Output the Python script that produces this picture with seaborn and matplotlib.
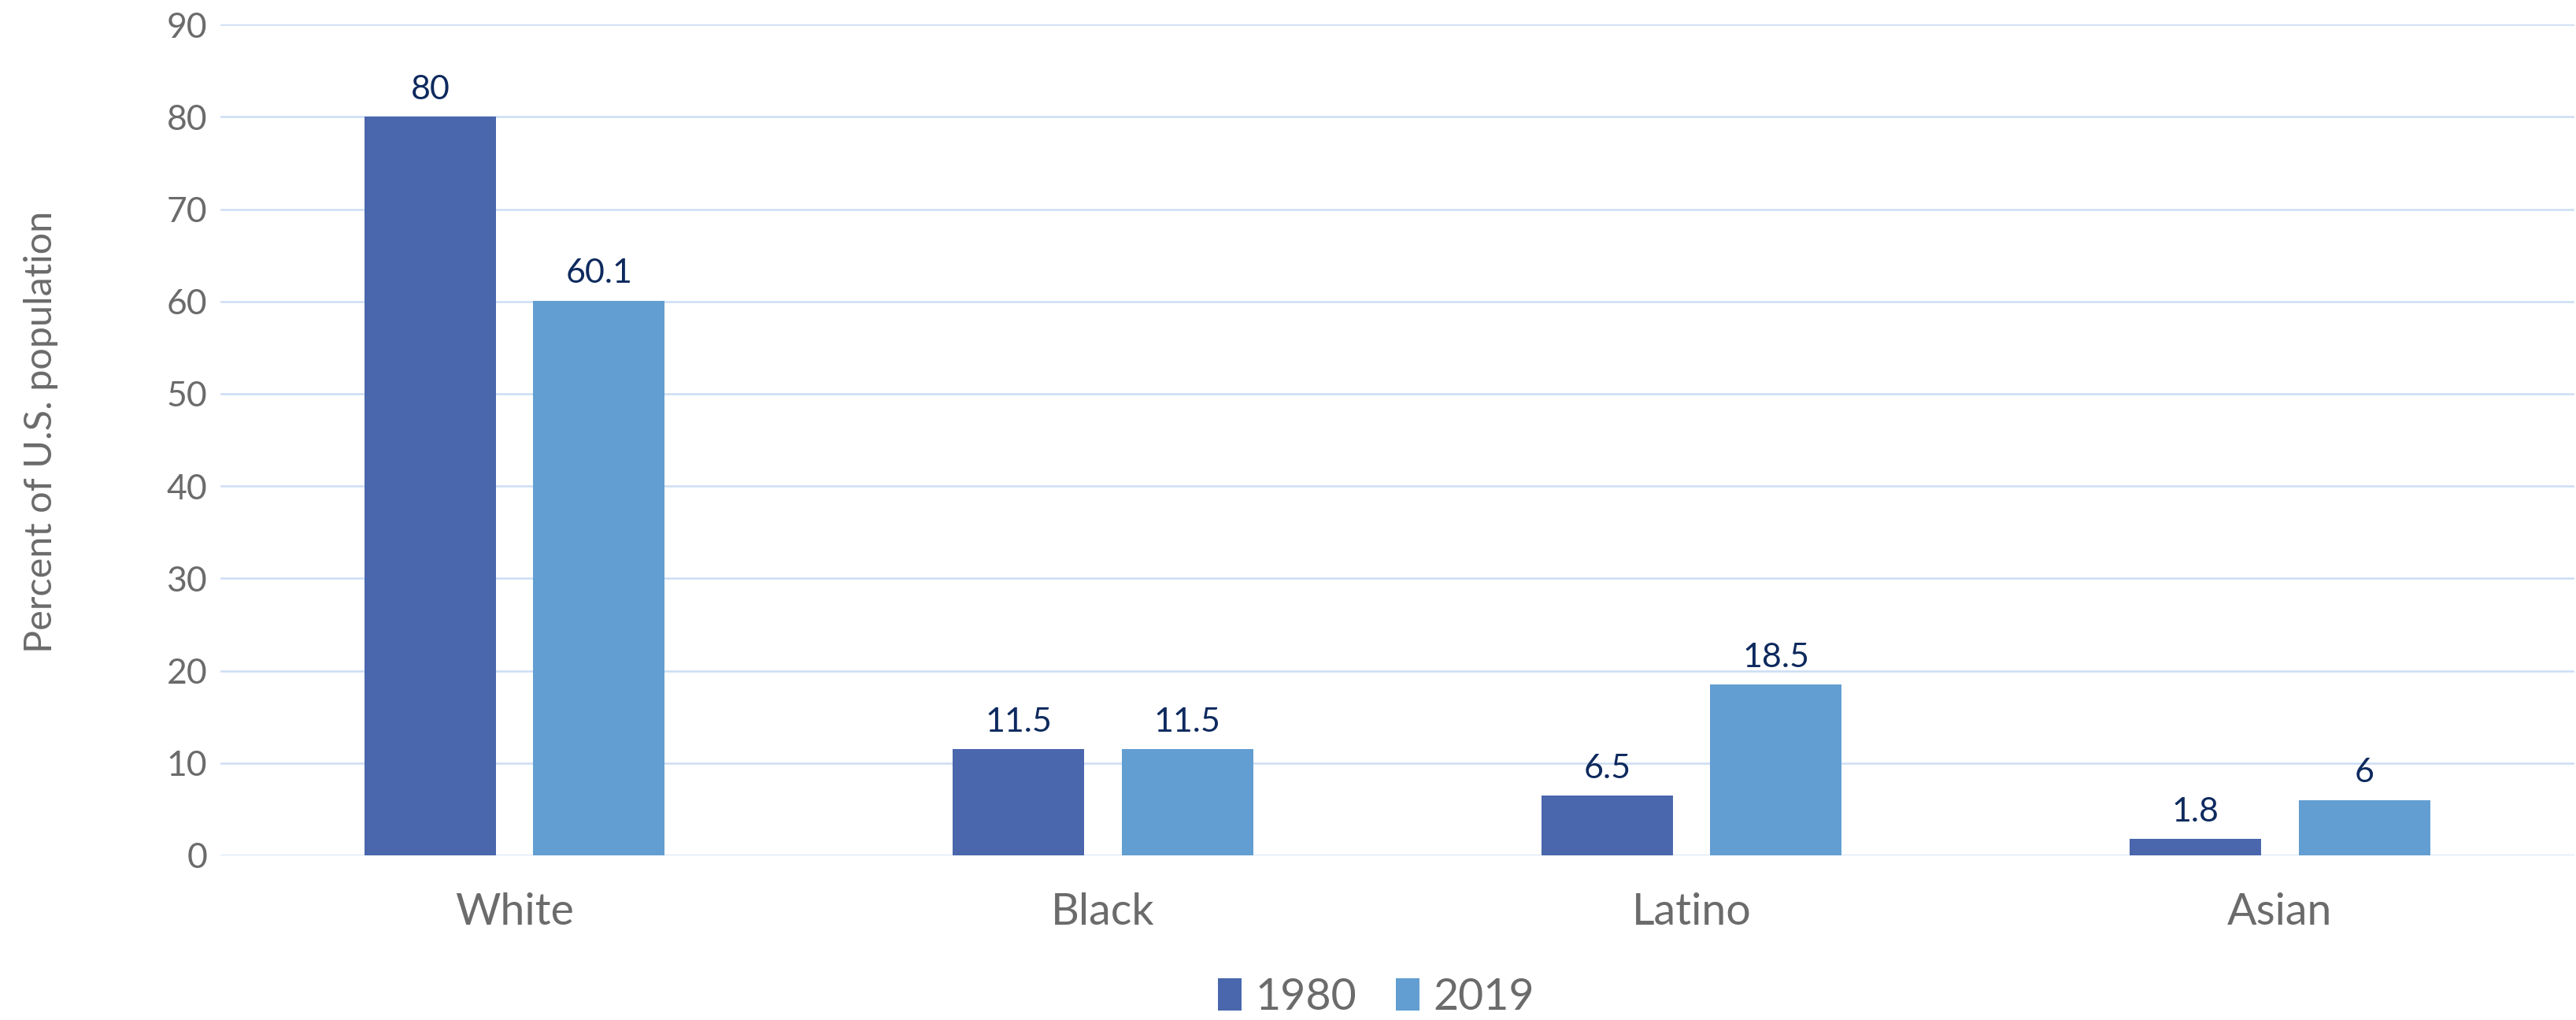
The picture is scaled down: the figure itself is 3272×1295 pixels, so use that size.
import matplotlib
matplotlib.use("Agg")
import matplotlib.pyplot as plt
import seaborn as sns
import pandas as pd
from matplotlib.patches import Patch

# Share of the U.S. population by race/ethnicity
categories = ["White", "Black", "Latino", "Asian"]
years = ["1980", "2019"]
values_1980 = [80, 11.5, 6.5, 1.8]
values_2019 = [60.1, 11.5, 18.5, 6]
y_ticks = [0, 10, 20, 30, 40, 50, 60, 70, 80, 90]

colors = {"1980": "#4A67AD", "2019": "#629ED1"}
label_color = "#0E2A5E"
text_gray = "#6B6B6B"
grid_color = "#CCDDF5"

df = pd.DataFrame({
    "group": categories * 2,
    "year": [years[0]] * len(categories) + [years[1]] * len(categories),
    "value": values_1980 + values_2019,
})

sns.set_theme(style="white")
plt.rcParams["font.family"] = ["Lato", "DejaVu Sans"]

fig = plt.figure(figsize=(32.73, 12.95), dpi=100)
ax = fig.add_axes([0.0855, 0.1614, 0.9135, 0.8146])

sns.barplot(data=df, x="group", y="value", hue="year", order=categories,
            hue_order=years, palette=colors, width=0.574, gap=0.223,
            saturation=1, edgecolor="none", ax=ax, legend=False, zorder=3)

for container in ax.containers:
    labels = [f"{v:g}" for v in container.datavalues]
    ax.bar_label(container, labels=labels, padding=11, fontsize=31,
                 color=label_color)

ax.set_ylim(0, 90)
ax.set_xlim(-0.5, 3.5)
ax.set_yticks(y_ticks)
ax.set_yticklabels([str(t) for t in y_ticks])
ax.yaxis.grid(True, color=grid_color, linewidth=1.8, zorder=0)
ax.set_axisbelow(True)
for s in ax.spines.values():
    s.set_visible(False)

ax.tick_params(axis="y", length=0, pad=12, labelsize=32, labelcolor=text_gray)
ax.tick_params(axis="x", length=0, pad=34, labelsize=40, labelcolor=text_gray)
ax.set_xlabel("")
ax.set_ylabel("Percent of U.S. population", fontsize=35, color=text_gray)
ax.yaxis.set_label_coords(-0.069, 0.51)

handles = [Patch(facecolor=colors[y], edgecolor="none") for y in years]
fig.legend(handles, years, loc="center", bbox_to_anchor=(0.534, 0.022),
           ncol=2, frameon=False, fontsize=40, labelcolor=text_gray,
           handlelength=0.55, handleheight=0.75, handletextpad=0.3,
           columnspacing=0.9)

fig.savefig("out.png", dpi=100)
